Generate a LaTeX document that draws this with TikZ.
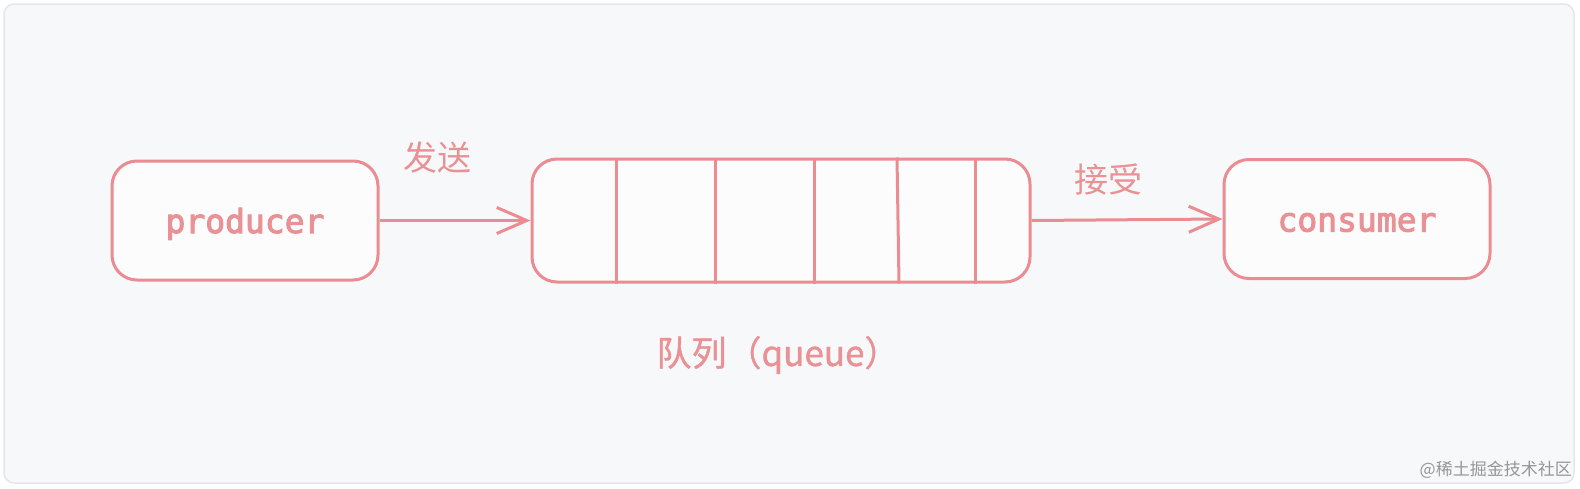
\documentclass[tikz,border=0pt]{standalone}
\usepackage{fontspec}
\newfontfamily\codefont[FakeBold=3]{DejaVu Sans Mono}
\newfontfamily\cjk{Noto Sans CJK SC}
\newfontfamily\cjkmid[FakeBold=1]{Noto Sans CJK SC}
\usepackage{tikz}
\usetikzlibrary{arrows.meta}

\definecolor{framefill}{RGB}{247,248,250}
\definecolor{framedraw}{RGB}{228,230,234}
\definecolor{pinkline}{RGB}{234,140,145}
\definecolor{pinktext}{RGB}{233,145,148}
\definecolor{marktext}{RGB}{150,150,150}

\tikzset{
  box/.style={draw=pinkline,line width=3pt,rounded corners=25pt,fill=white!60!framefill,
    minimum width=266pt,minimum height=119pt,inner sep=0pt,text height=25pt,text depth=0pt,
    text=pinktext,font=\codefont\fontsize{33}{36}\selectfont},
  flow/.style={draw=pinkline,line width=3pt,-{Straight Barb[length=30pt,width=26pt,line width=3pt]}},
  lbl/.style={text=pinktext,font=\cjk\fontsize{34}{38}\selectfont,inner sep=0pt}
}

\begin{document}
\begin{tikzpicture}[x=1pt,y=-1pt]
            \useasboundingbox (0,0) rectangle (1580,488);
            \draw[framedraw,fill=framefill,line width=1.5pt,rounded corners=10pt]
            (4,4) rectangle (1574,483);   % Frame

            \node[box] (producer) at (245,220.5) {producer};
            \node[box,minimum width=498pt,minimum height=123pt] (queue) at (781,220.5) {};
            \node[box] (consumer) at (1357,219) {consumer};

            \foreach \x in {616,715,814,975} {
                \draw[pinkline,line width=3pt] (queue.north -| \x,0) -- (queue.south -| \x,0);
            }
            \draw[pinkline,line width=3pt] (queue.north -| 897,0) -- (queue.south -| 899,0);

            \draw[flow] (producer.east) -- (queue.west);
            \draw[flow] (queue.east) -- (consumer.west);

            \node[lbl] (send) at (437,158) {发送};
            \node[lbl] (recv) at (1108,180) {接受};
            \node[lbl,font=\cjkmid\fontsize{35}{38}\selectfont] (qname) at (778,355) {队列（queue）};

            \node[text=marktext,font=\cjk\fontsize{17}{20}\selectfont,anchor=east,inner sep=0pt]
            (mark) at (1572,470) {@稀土掘金技术社区};
        \end{tikzpicture}
\end{document}
